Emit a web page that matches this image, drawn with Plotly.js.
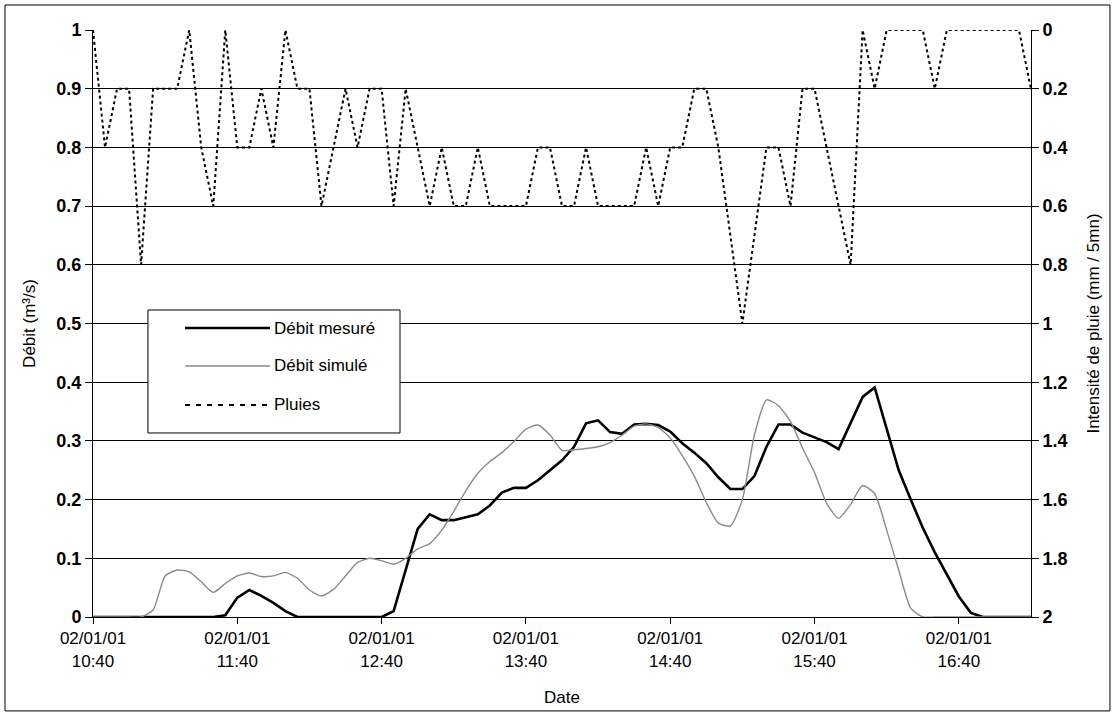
<!DOCTYPE html>
<html>
<head>
<meta charset="utf-8">
<script src="https://cdn.plot.ly/plotly-3.0.1.min.js"></script>
<style>
html,body{margin:0;padding:0;background:#fff;}
#chart{width:1116px;height:715px;}
</style>
</head>
<body>
<div id="chart"></div>
<script>
// Time categories (5-minute steps, 02/01/2001)
const dateDay = "2001-01-02";
const times = [
"10:40","10:45","10:50","10:55","11:00","11:05","11:10","11:15","11:20","11:25","11:30","11:35",
"11:40","11:45","11:50","11:55","12:00","12:05","12:10","12:15","12:20","12:25","12:30","12:35",
"12:40","12:45","12:50","12:55","13:00","13:05","13:10","13:15","13:20","13:25","13:30","13:35",
"13:40","13:45","13:50","13:55","14:00","14:05","14:10","14:15","14:20","14:25","14:30","14:35",
"14:40","14:45","14:50","14:55","15:00","15:05","15:10","15:15","15:20","15:25","15:30","15:35",
"15:40","15:45","15:50","15:55","16:00","16:05","16:10","16:15","16:20","16:25","16:30","16:35",
"16:40","16:45","16:50","16:55","17:00","17:05","17:10"
];

// Débit mesuré (m3/s)
const debitMesure = [
0,0,0,0,0,0,0,0,0,0,0,
0.003,0.033,0.046,0.036,0.024,0.01,
0,0,0,0,0,0,0,0,
0.01,0.08,0.15,0.175,0.165,0.165,0.17,0.175,0.19,0.212,0.22,0.22,0.233,0.25,0.267,0.29,
0.33,0.335,0.315,0.312,0.328,0.329,0.327,0.316,0.296,0.28,0.262,0.238,0.218,0.218,0.24,
0.29,0.328,0.328,0.314,0.306,0.298,0.286,0.33,0.375,0.391,0.32,0.25,0.2,0.152,0.11,0.072,
0.035,0.007,
0,0,0,0,0
];

// Débit simulé (m3/s)
const debitSimule = [
0,0,0,0,0,
0.012,0.07,0.08,0.077,0.06,0.042,0.057,0.07,0.075,0.069,0.07,0.076,0.066,0.046,0.036,0.047,
0.07,0.093,0.1,0.096,0.09,0.1,0.116,0.125,0.148,0.18,0.215,0.245,0.265,0.28,0.299,0.32,0.327,
0.31,0.284,0.285,0.287,0.29,0.297,0.31,0.325,0.329,0.323,0.305,0.275,0.24,0.195,0.16,0.155,
0.2,0.31,0.37,0.36,0.333,0.288,0.246,0.194,0.168,0.192,0.224,0.21,0.148,0.08,0.015,
0,0,0,0,0,0,0,0,0,0
];

// Pluies (mm / 5mn)
const pluies = [
0,0.4,0.2,0.2,0.8,0.2,0.2,0.2,0,0.4,0.6,0,0.4,0.4,0.2,0.4,0,0.2,0.2,0.6,
0.4,0.2,0.4,0.2,0.2,0.6,0.2,0.4,0.6,0.4,0.6,0.6,0.4,0.6,0.6,0.6,0.6,0.4,0.4,0.6,
0.6,0.4,0.6,0.6,0.6,0.6,0.4,0.6,0.4,0.4,0.2,0.2,0.4,0.7,1.0,0.7,0.4,0.4,0.6,0.2,
0.2,0.4,0.6,0.8,0,0.2,0,0,0,0,0.2,0,0,0,0,0,0,0,0.2
];

const seriesNames = ["Débit mesuré", "Débit simulé", "Pluies"];
const leftTitle = "Débit (m³/s)";
const rightTitle = "Intensité de pluie (mm / 5mn)";
const xTitle = "Date";

const x = times.map(t => dateDay + " " + t);
const fontFam = "Liberation Sans, Arial, sans-serif";

const lineStyles = [
  {color: "#000000", width: 2.6},
  {color: "#8a8a8a", width: 1.4},
  {color: "#000000", width: 2, dash: "dot"}
];

const traces = [
  {x: x, y: debitMesure, name: seriesNames[0], type: "scatter", mode: "lines",
   line: lineStyles[0], yaxis: "y", showlegend: false},
  {x: x, y: debitSimule, name: seriesNames[1], type: "scatter", mode: "lines",
   line: Object.assign({shape: "spline", smoothing: 0.6}, lineStyles[1]), yaxis: "y", showlegend: false},
  {x: x, y: pluies, name: seriesNames[2], type: "scatter", mode: "lines",
   line: lineStyles[2], yaxis: "y2", showlegend: false}
];

// Legend box drawn in paper coordinates
const legBox = {x0: 0.0586, x1: 0.3273, y0: 0.3135, y1: 0.523};
const legRows = [0.4923, 0.4276, 0.3612];
const legLine = {x0: 0.0981, x1: 0.1887};
const legendDash = ["solid", "solid", "5px,6px"];

const shapes = [
  {type: "rect", xref: "paper", yref: "paper",
   x0: -0.0938, x1: 1.0842, y0: -0.160, y1: 1.0426,
   line: {color: "#000", width: 1}, fillcolor: "rgba(0,0,0,0)", layer: "below"},
  {type: "rect", xref: "paper", yref: "paper",
   x0: legBox.x0, x1: legBox.x1, y0: legBox.y0, y1: legBox.y1,
   line: {color: "#000", width: 1}, fillcolor: "#ffffff", layer: "above"}
];
const annotations = [];
seriesNames.forEach((nm, k) => {
  shapes.push({type: "line", xref: "paper", yref: "paper",
    x0: legLine.x0, x1: legLine.x1, y0: legRows[k], y1: legRows[k],
    line: {color: lineStyles[k].color, width: lineStyles[k].width, dash: legendDash[k]}, layer: "above"});
  annotations.push({xref: "paper", yref: "paper", x: legLine.x1 + 0.002, y: legRows[k],
    xanchor: "left", yanchor: "middle", showarrow: false, text: nm,
    font: {family: fontFam, size: 17, color: "#000"}});
});

const layout = {
  width: 1116, height: 715,
  margin: {l: 93, r: 85, t: 30, b: 98},
  paper_bgcolor: "#ffffff", plot_bgcolor: "#ffffff",
  font: {family: fontFam, color: "#000000", size: 17},
  showlegend: false,
  xaxis: {
    type: "date",
    range: [dateDay + " 10:40", dateDay + " 17:10"],
    tick0: dateDay + " 10:40", dtick: 3600000, tickmode: "linear",
    tickformat: "%d/%m/%y<br>%H:%M",
    ticks: "outside", ticklen: 6, tickcolor: "#000",
    showline: true, linecolor: "#000", linewidth: 1,
    showgrid: false, zeroline: false,
    tickfont: {family: fontFam, size: 17, color: "#000"},
    title: {text: xTitle, font: {family: fontFam, size: 17, color: "#000"}, standoff: 21}
  },
  yaxis: {
    range: [0, 1], dtick: 0.1, tick0: 0, tickmode: "linear",
    ticks: "outside", ticklen: 7, tickcolor: "#000",
    showline: true, linecolor: "#000", linewidth: 1,
    showgrid: true, gridcolor: "#000", gridwidth: 1, zeroline: false,
    tickfont: {family: fontFam, size: 18, color: "#000", weight: "bold"},
    title: {text: leftTitle, font: {family: fontFam, size: 17, color: "#000"}, standoff: 16}
  },
  yaxis2: {
    overlaying: "y", side: "right",
    range: [2, 0], dtick: 0.2, tick0: 0, tickmode: "linear",
    ticks: "outside", ticklen: 7, tickcolor: "#000",
    showline: true, linecolor: "#000", linewidth: 1,
    showgrid: false, zeroline: false,
    tickfont: {family: fontFam, size: 18, color: "#000", weight: "bold"},
    title: {text: rightTitle, font: {family: fontFam, size: 17, color: "#000"}, standoff: 20}
  },
  shapes: shapes,
  annotations: annotations
};

Plotly.newPlot("chart", traces, layout, {displayModeBar: false, staticPlot: true});
</script>
</body>
</html>
